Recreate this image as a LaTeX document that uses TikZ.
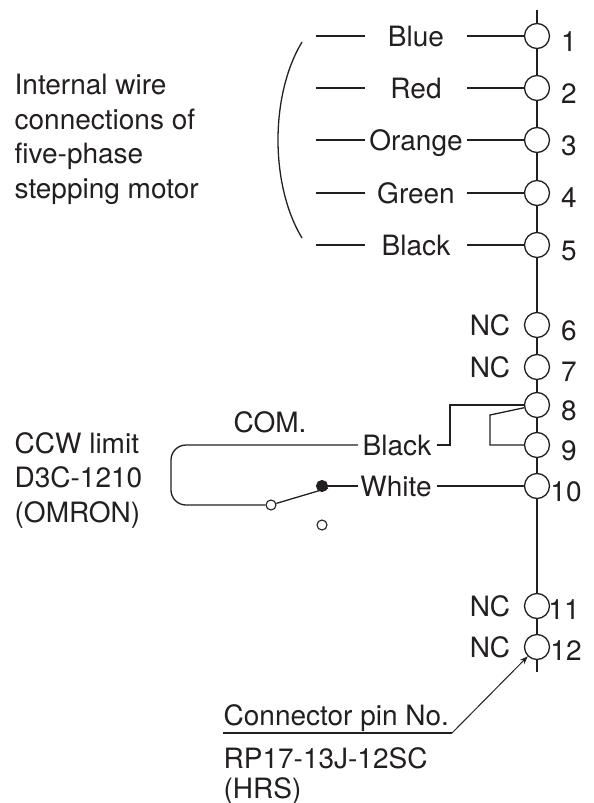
\documentclass[tikz,border=0pt]{standalone}
\usepackage{fontspec}
\setmainfont{TeX Gyre Heros}
\usepackage{tikz}
\usetikzlibrary{arrows.meta}
\definecolor{inkline}{HTML}{231F20}

\begin{document}
\begin{tikzpicture}[
    x=1pt, y=-1pt,
    every path/.style={draw=inkline, line width=1.3pt},
    pinhole/.style={circle, draw=inkline, line width=1.3pt, minimum size=25pt, inner sep=0pt},
    contact/.style={circle, draw=inkline, line width=1.1pt, minimum size=10pt, inner sep=0pt},
    txt/.style={draw=none, inner sep=0pt, text=inkline, font=\fontsize{28}{34.5}\selectfont},
    pinno/.style={txt, anchor=base},
    wirename/.style={txt, anchor=base},
    note/.style={txt, anchor=base west, align=left},
    leader/.style={-{Stealth[length=8pt, width=6pt]}, line width=1pt}
]
    \useasboundingbox[draw=none] (0,0) rectangle (594,803);

    % Connector pins, top to bottom
    \node[pinhole] (p1) at (537,36) {};
    \node[pinhole] (p2) at (537,88) {};
    \node[pinhole] (p3) at (537,140) {};
    \node[pinhole] (p4) at (537,193) {};
    \node[pinhole] (p5) at (537,245) {};
    \node[pinhole] (p6) at (537,325) {};
    \node[pinhole] (p7) at (537,367) {};
    \node[pinhole] (p8) at (537,405) {};
    \node[pinhole] (p9) at (537,445) {};
    \node[pinhole] (p10) at (537,486) {};
    \node[pinhole] (p11) at (537,606) {};
    \node[pinhole] (p12) at (537,647) {};

    % Pin numbers
    \node[pinno] (n1) at (569,51) {1};
    \node[pinno] (n2) at (569,103) {2};
    \node[pinno] (n3) at (569,155) {3};
    \node[pinno] (n4) at (569,207) {4};
    \node[pinno] (n5) at (569,260) {5};
    \node[pinno] (n6) at (569,340) {6};
    \node[pinno] (n7) at (569,381) {7};
    \node[pinno] (n8) at (569,420) {8};
    \node[pinno] (n9) at (569,460) {9};
    \node[pinno] (n10) at (566,501) {10};
    \node[pinno] (n11) at (564,619) {11};
    \node[pinno] (n12) at (566,660) {12};

    % NC marks
    \node[wirename] (nc6) at (490,335) {NC};
    \node[wirename] (nc7) at (490,377) {NC};
    \node[wirename] (nc11) at (490,616) {NC};
    \node[wirename] (nc12) at (490,657) {NC};

    % Motor wire names
    \node[wirename] (blue) at (416,46) {Blue};
    \node[wirename] (red) at (416,98) {Red};
    \node[wirename] (orange) at (416,150) {Orange};
    \node[wirename] (green) at (416,203) {Green};
    \node[wirename] (blackm) at (416,255) {Black};

    % Switch wire names
    \node[wirename] (blacks) at (397,455) {Black};
    \node[wirename] (white) at (396,496) {White};
    \node[wirename] (com) at (270,432) {COM.};

    % Side notes
    \node[note] (internal) at (14,198) {Internal wire\\connections of\\five-phase\\stepping motor};
    \node[note] (ccw) at (14,522) {CCW limit\\D3C-1210\\(OMRON)};
    \node[note] (pinlabel) at (223,725) {Connector pin No.};
    \node[note] (rp) at (223,768) {RP17-13J-12SC};
    \node[note] (hrs) at (223,798) {(HRS)};

    % Switch contacts
    \node[contact] (cin) at (271,505) {};
    \node[contact] (cno) at (322,525) {};
    \node[contact, fill=inkline, minimum size=11pt] (cnc) at (322,486) {};

    % Free ends
    \coordinate (top) at (537,10);
    \coordinate (bot) at (537,672);
    \coordinate (a1) at (316,36);
    \coordinate (a2) at (316,88);
    \coordinate (a3) at (316,140);
    \coordinate (a4) at (316,193);
    \coordinate (a5) at (316,245);
    \coordinate (b1) at (365,36);
    \coordinate (b2) at (365,88);
    \coordinate (b3) at (365,140);
    \coordinate (b4) at (365,193);
    \coordinate (b5) at (365,245);
    \coordinate (c1) at (467,36);
    \coordinate (c2) at (467,88);
    \coordinate (c3) at (467,140);
    \coordinate (c4) at (467,193);
    \coordinate (c5) at (467,245);
    \coordinate (j89) at (490,415);
    \coordinate (bk1) at (358,445);
    \coordinate (bk2) at (437,445);
    \coordinate (wh1) at (358,486);
    \coordinate (wh2) at (437,486);
    \coordinate (loopl) at (171,445);
    \coordinate (armend) at (328,488);
    \coordinate (u1) at (223,733);
    \coordinate (u2) at (452,733);
    \coordinate (brt) at (302,42);
    \coordinate (brb) at (302,238);

    % Spine
    \draw (top) -- (p1);
    \draw (p1) -- (p2);
    \draw (p2) -- (p3);
    \draw (p3) -- (p4);
    \draw (p4) -- (p5);
    \draw (p5) -- (p6);
    \draw (p6) -- (p7);
    \draw (p7) -- (p8);
    \draw (p8) -- (p9);
    \draw (p9) -- (p10);
    \draw (p10) -- (p11);
    \draw (p11) -- (p12);
    \draw (p12) -- (bot);

    % Motor wires
    \draw (a1) -- (b1);
    \draw (a2) -- (b2);
    \draw (a3) -- (b3);
    \draw (a4) -- (b4);
    \draw (a5) -- (b5);
    \draw (c1) -- (p1);
    \draw (c2) -- (p2);
    \draw (c3) -- (p3);
    \draw (c4) -- (p4);
    \draw (c5) -- (p5);
    \draw (brt) .. controls (270,95) and (270,185) .. (brb);

    % Switch wiring
    \draw (bk2) -- (450,445) -- (450,405) -- (p8);
    \draw (p8) -- (j89) -- (j89 |- p9) -- (p9);
    \draw (wh2) -- (p10);
    \draw (cnc) -- (wh1);
    \draw[rounded corners=15pt] (bk1) -- (loopl) -- (loopl |- cin) -- (cin);
    \draw (cin) -- (armend);

    % Pin label leader
    \draw (u1) -- (u2);
    \draw[leader] (u2) -- (p12);
\end{tikzpicture}
\end{document}
